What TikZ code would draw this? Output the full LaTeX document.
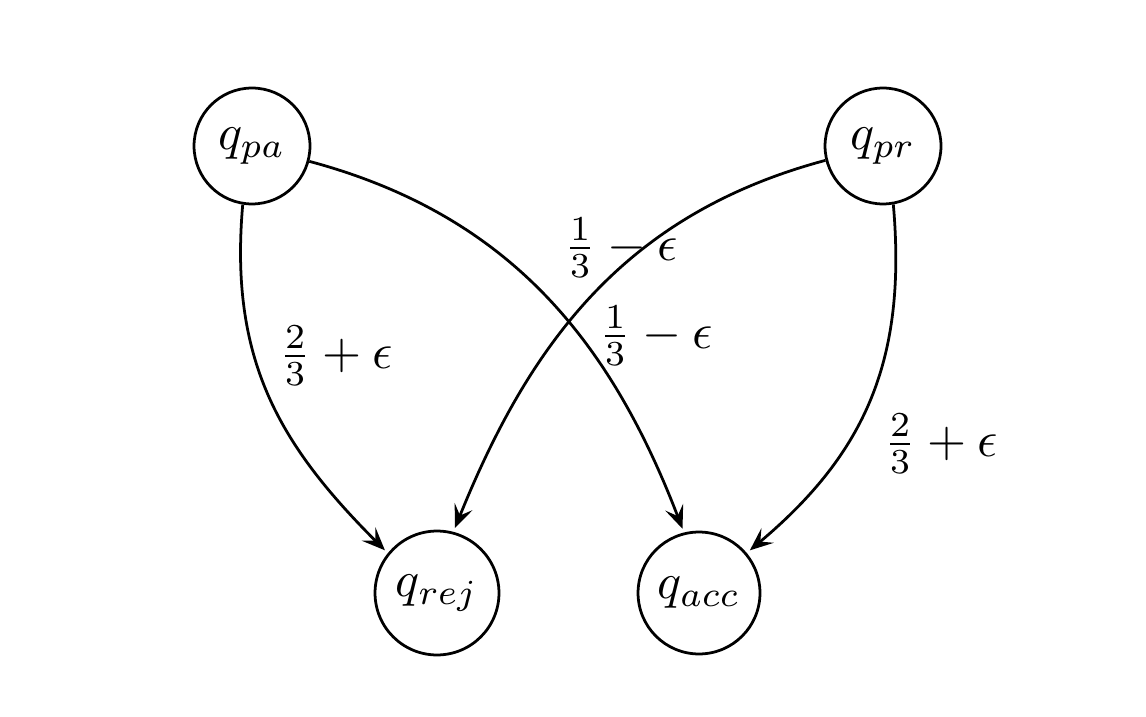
\documentclass[tikz,border=0pt]{standalone}
\usetikzlibrary{arrows.meta}
\begin{document}
\begin{tikzpicture}[x=0.007cm,y=0.007cm,
  state/.style={circle,draw,line width=0.55pt,inner sep=0pt},
  trans/.style={line width=0.55pt,-{Stealth[length=4.6pt,width=3.8pt,inset=1.9pt]},shorten >=0.8pt},
  lbl/.style={inner sep=0pt}]
\useasboundingbox (0,0) rectangle (1146,716);
\node[state,minimum size=0.812cm] (pa) at (252,570) {$q_{pa}$};
\node[state,minimum size=0.812cm] (pr) at (883,570) {$q_{pr}$};
\node[state,minimum size=0.868cm] (rej) at (437,123) {$q_{rej}$};
\node[state,minimum size=0.854cm] (acc) at (699,123) {$q_{acc}$};
\draw[trans] (pa.261) to[out=265,in=135,looseness=1.05] (rej.141);
\draw[trans] (pa.345) to[out=-15,in=111] (acc.104);
\draw[trans] (pr.194) to[out=195,in=68] (rej.75);
\draw[trans] (pr.280) to[out=275,in=40,looseness=1.05] (acc.40);
\node[lbl] (l1) at (336,360) {$\frac{2}{3}+\epsilon$};
\node[lbl] (l2) at (621,468) {$\frac{1}{3}-\epsilon$};
\node[lbl] (l3) at (656,380) {$\frac{1}{3}-\epsilon$};
\node[lbl] (l4) at (941,272) {$\frac{2}{3}+\epsilon$};
\end{tikzpicture}
\end{document}
